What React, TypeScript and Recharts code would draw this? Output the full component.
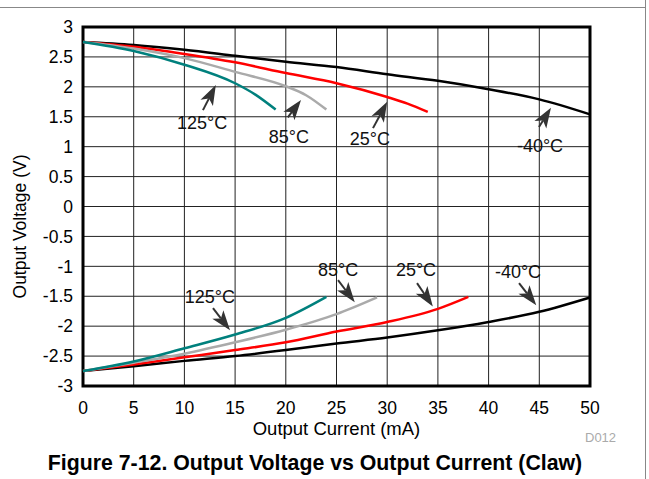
import React from 'react';
import { LineChart, Line, XAxis, YAxis, CartesianGrid, ReferenceArea, ReferenceLine, ReferenceDot } from 'recharts';

// [current mA, voltage V] pairs
const highM40 = [[0, 2.75], [5, 2.7], [10, 2.62], [15, 2.52], [20, 2.42], [25, 2.33], [30, 2.21], [35, 2.1], [40, 1.96], [45, 1.79], [50, 1.54]];
const high25 = [[0, 2.75], [5, 2.67], [10, 2.55], [15, 2.41], [20, 2.23], [25, 2.06], [30, 1.83], [32, 1.72], [34, 1.58]];
const high85 = [[0, 2.75], [5, 2.64], [10, 2.48], [15, 2.25], [20, 2.01], [22, 1.86], [24, 1.62]];
const high125 = [[0, 2.75], [5, 2.6], [10, 2.37], [15, 2.06], [17, 1.87], [19, 1.62]];

const lowM40 = [[0, -2.75], [5, -2.67], [10, -2.58], [15, -2.5], [20, -2.4], [25, -2.29], [30, -2.19], [35, -2.07], [40, -1.93], [45, -1.76], [50, -1.52]];
const low25 = [[0, -2.75], [5, -2.64], [10, -2.52], [15, -2.4], [20, -2.27], [25, -2.09], [30, -1.93], [35, -1.71], [38, -1.51]];
const low85 = [[0, -2.75], [5, -2.61], [10, -2.46], [15, -2.27], [20, -2.06], [25, -1.8], [29, -1.52]];
const low125 = [[0, -2.75], [5, -2.59], [10, -2.37], [15, -2.14], [20, -1.86], [24, -1.51]];

const xTicks = [0, 5, 10, 15, 20, 25, 30, 35, 40, 45, 50];
const yTicks = [-3, -2.5, -2, -1.5, -1, -0.5, 0, 0.5, 1, 1.5, 2, 2.5, 3];

// annotation: label text, label position, arrow base, arrow tip (data coords)
const notes = [
  { text: '125°C', tx: 11.74, ty: 1.39, bx: 11.83, by: 1.61, ex: 13.1, ey: 2.03 },
  { text: '85°C', tx: 20.3, ty: 1.16, bx: 20.2, by: 1.49, ex: 21.5, ey: 1.78 },
  { text: '25°C', tx: 28.3, ty: 1.13, bx: 28.6, by: 1.31, ex: 30.0, ey: 1.75 },
  { text: '-40°C', tx: 45.07, ty: 1.01, bx: 44.97, by: 1.33, ex: 46.15, ey: 1.65 },
  { text: '125°C', tx: 12.52, ty: -1.52, bx: 12.82, by: -1.7, ex: 14.5, ey: -2.07 },
  { text: '85°C', tx: 25.15, ty: -1.06, bx: 25.15, by: -1.23, ex: 26.8, ey: -1.6 },
  { text: '25°C', tx: 32.84, ty: -1.06, bx: 32.94, by: -1.28, ex: 34.5, ey: -1.67 },
  { text: '-40°C', tx: 42.9, ty: -1.1, bx: 43.0, by: -1.28, ex: 44.7, ey: -1.65 },
];

const series = [
  { key: 'hm40', data: highM40, color: '#000000' },
  { key: 'h25', data: high25, color: '#ff0000' },
  { key: 'h85', data: high85, color: '#aaaaaa' },
  { key: 'h125', data: high125, color: '#00807d' },
  { key: 'lm40', data: lowM40, color: '#000000' },
  { key: 'l25', data: low25, color: '#ff0000' },
  { key: 'l85', data: low85, color: '#aaaaaa' },
  { key: 'l125', data: low125, color: '#00807d' },
];

const FONT = 'Arial, "Liberation Sans", sans-serif';

const Arrow = (props: any) => {
  const { x1, y1, x2, y2 } = props;
  const ang = Math.atan2(y2 - y1, x2 - x1);
  const c = Math.cos(ang), s = Math.sin(ang);
  const L = 20, W = 7, N = 5;
  const bx = x2 - L * c, by = y2 - L * s;
  const nx = x2 - (L - N) * c, ny = y2 - (L - N) * s;
  const p1 = `${bx - W * s},${by + W * c}`;
  const p2 = `${bx + W * s},${by - W * c}`;
  return (
    <g>
      <line x1={x1} y1={y1} x2={nx} y2={ny} stroke="#333" strokeWidth={2} />
      <polygon points={`${x2},${y2} ${p1} ${nx},${ny} ${p2}`} fill="#333" />
    </g>
  );
};

const NoteText = (text: string) => (props: any) => (
  <text x={props.cx} y={props.cy} textAnchor="middle" dominantBaseline="central" fontSize={18} fontFamily={FONT} fill="#111">
    {text}
  </text>
);

const YLabel = (props: any) => {
  const vb = props.viewBox || { x: 0, y: 27, width: 83, height: 359 };
  const cx = 20;
  const cy = vb.y + vb.height / 2 + 20;
  return (
    <text x={cx} y={cy} transform={`rotate(-90, ${cx}, ${cy})`} textAnchor="middle" dominantBaseline="central" fontSize={17.5} fontFamily={FONT} fill="#000">
      Output Voltage (V)
    </text>
  );
};

export default function App() {
  return (
    <div style={{ position: 'absolute', left: 0, top: 0, width: 649, height: 479, background: '#fff', fontFamily: FONT }}>
      <div style={{ position: 'absolute', left: 0, top: 7, width: 646, height: 1, background: '#888' }} />
      <div style={{ position: 'absolute', left: 645, top: 0, width: 1, height: 479, background: '#888' }} />
      <LineChart width={649} height={479} margin={{ top: 27, right: 59, left: 0, bottom: 0 }}>
        <CartesianGrid stroke="#222" strokeWidth={1} />
        <XAxis
          type="number"
          dataKey="x"
          domain={[0, 50]}
          ticks={xTicks}
          height={93}
          axisLine={false}
          tickLine={false}
          tickMargin={10}
          tick={{ fill: '#000', fontSize: 17.5, fontFamily: FONT }}
          label={{ value: 'Output Current (mA)', position: 'insideTop', offset: 36, fill: '#000', fontSize: 18.5, fontFamily: FONT }}
        />
        <YAxis
          type="number"
          domain={[-3, 3]}
          ticks={yTicks}
          width={83}
          axisLine={false}
          tickLine={false}
          tickMargin={4}
          interval={0}
          tick={{ fill: '#000', fontSize: 17.5, fontFamily: FONT }}
          label={<YLabel />}
        />
        {series.map((sr) => (
          <Line
            key={sr.key}
            data={sr.data.map(([x, y]) => ({ x, y }))}
            dataKey="y"
            type="monotone"
            stroke={sr.color}
            strokeWidth={2.5}
            dot={false}
            isAnimationActive={false}
          />
        ))}
        <ReferenceArea x1={0} x2={50} y1={-3} y2={3} fill="none" stroke="#000" strokeWidth={3} ifOverflow="visible" />
        {notes.map((n, i) => (
          <ReferenceLine key={`a${i}`} segment={[{ x: n.bx, y: n.by }, { x: n.ex, y: n.ey }]} shape={Arrow} ifOverflow="visible" />
        ))}
        {notes.map((n, i) => (
          <ReferenceDot key={`t${i}`} x={n.tx} y={n.ty} r={0} shape={NoteText(n.text)} ifOverflow="visible" />
        ))}
      </LineChart>
      <div style={{ position: 'absolute', left: 585, top: 431, fontSize: 13, lineHeight: '13px', color: '#aaa' }}>D012</div>
      <div style={{ position: 'absolute', left: 0, top: 451, width: 630, textAlign: 'center', fontSize: 21.3, lineHeight: '24px', fontWeight: 'bold', color: '#000' }}>
        Figure 7-12. Output Voltage vs Output Current (Claw)
      </div>
    </div>
  );
}
